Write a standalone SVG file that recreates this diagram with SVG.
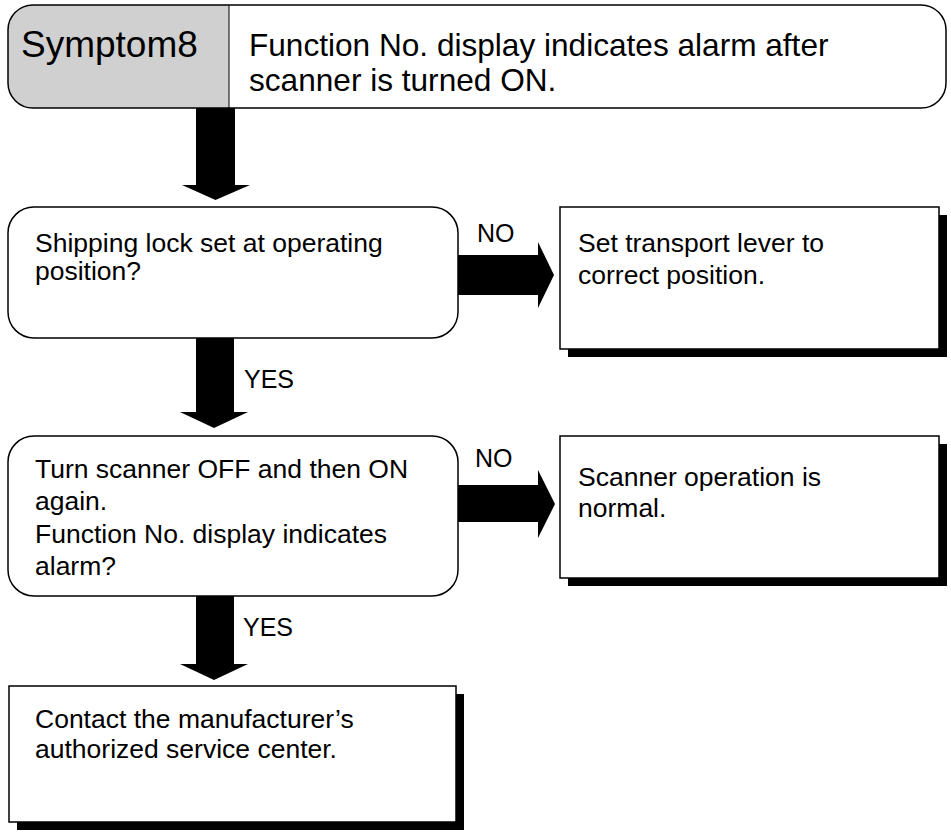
<svg xmlns="http://www.w3.org/2000/svg" width="951" height="833" viewBox="0 0 951 833">
<style>
text{font-family:"Liberation Sans",Arial,sans-serif;fill:#000}
.b{font-size:26.5px}
.l{font-size:25px}
.box{fill:#fff;stroke:#000;stroke-width:1.5}
.sh{fill:#000}
.ar{fill:#000}
</style>
<rect x="0" y="0" width="951" height="833" fill="#fff"/>
<g id="connectors">
<path class="ar" d="M196,108 H235 V185 H250 L215.5,200 L182,185 H196 Z"/>
<path class="ar" d="M196,338 H234 V412 H248 L214,428 L180,412 H196 Z"/>
<path class="ar" d="M196,596 H234 V664 H248 L214,680 L180,664 H196 Z"/>
<path class="ar" d="M458,255 H538 V242 L554,275 L538,308 V295 H458 Z"/>
<path class="ar" d="M458,485 H538 V470 L555,504 L538,538 V522 H458 Z"/>
<text class="l" x="244" y="388">YES</text>
<text class="l" x="243" y="636">YES</text>
<text class="l" x="477" y="242">NO</text>
<text class="l" x="475" y="467">NO</text>
</g>
<g id="header">
<path d="M33,5 H229 V108 H33 A25,25 0 0 1 8,83 V30 A25,25 0 0 1 33,5 Z" fill="#d0d0d0"/>
<path d="M33,5 H921 A25,25 0 0 1 946,30 V83 A25,25 0 0 1 921,108 H33 A25,25 0 0 1 8,83 V30 A25,25 0 0 1 33,5 Z" fill="none" stroke="#000" stroke-width="1.5"/>
<line x1="229" y1="5" x2="229" y2="108" stroke="#000" stroke-width="1"/>
<text x="21" y="57" font-size="37">Symptom8</text>
<text x="249" y="56" font-size="31.6">Function No. display indicates alarm after</text>
<text x="249" y="91" font-size="31.6">scanner is turned ON.</text>
</g>
<g id="q1">
<rect class="box" x="8" y="207" width="450" height="131" rx="26" ry="26"/>
<text class="b" x="35" y="252">Shipping lock set at operating</text>
<text class="b" x="35" y="280">position?</text>
</g>
<g id="r1">
<rect class="sh" x="568" y="215" width="379" height="142"/>
<rect class="box" x="560" y="207" width="379" height="142"/>
<text class="b" x="578" y="252">Set transport lever to</text>
<text class="b" x="578" y="284">correct position.</text>
</g>
<g id="q2">
<rect class="box" x="8" y="436" width="450" height="160" rx="26" ry="26"/>
<text class="b" x="35" y="478">Turn scanner OFF and then ON</text>
<text class="b" x="35" y="510">again.</text>
<text class="b" x="35" y="543">Function No. display indicates</text>
<text class="b" x="35" y="575">alarm?</text>
</g>
<g id="r2">
<rect class="sh" x="568" y="444" width="379" height="142"/>
<rect class="box" x="560" y="436" width="379" height="142"/>
<text class="b" x="578" y="486">Scanner operation is</text>
<text class="b" x="578" y="517">normal.</text>
</g>
<g id="end">
<rect class="sh" x="17" y="694" width="447" height="136"/>
<rect class="box" x="9" y="686" width="447" height="136"/>
<text class="b" x="35" y="728">Contact the manufacturer’s</text>
<text class="b" x="35" y="758">authorized service center.</text>
</g>
</svg>
